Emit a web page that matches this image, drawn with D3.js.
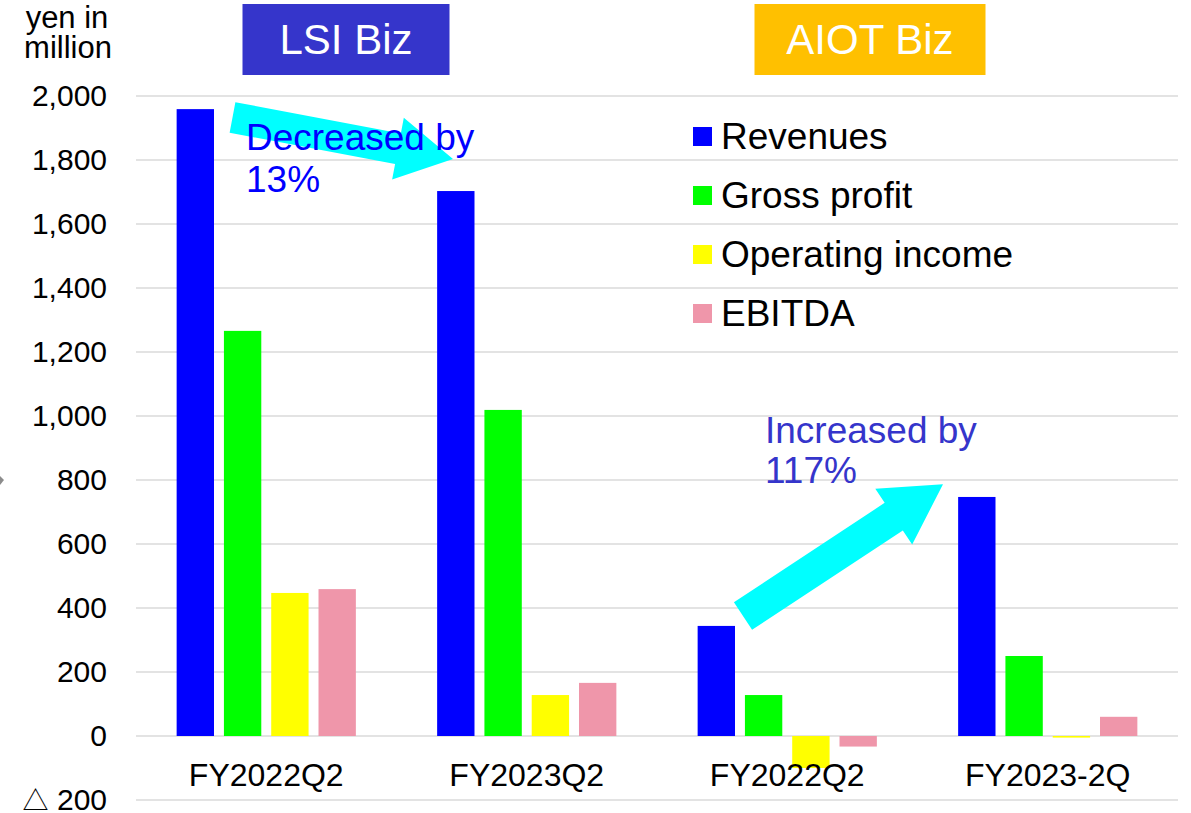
<!DOCTYPE html>
<html>
<head>
<meta charset="utf-8">
<script src="https://cdn.jsdelivr.net/npm/d3@7"></script>
<style>
  body { margin: 0; background: white; }
  text { font-family: "Liberation Sans", Arial, sans-serif; }
</style>
</head>
<body>
<div id="chart"></div>
<script>
// chart data (yen in million)
const categories = ["FY2022Q2", "FY2023Q2", "FY2022Q2", "FY2023-2Q"];
const seriesNames = ["Revenues", "Gross profit", "Operating income", "EBITDA"];
const revenues = [1959, 1703, 344, 747];
const grossProfit = [1266, 1019, 128, 250];
const operatingIncome = [447, 128, -100, -5];
const ebitda = [459, 166, -33, 60];
const seriesColors = ["#0000ff", "#00ff00", "#ffff00", "#ef96aa"];
const yTicks = [-200, 0, 200, 400, 600, 800, 1000, 1200, 1400, 1600, 1800, 2000];
const segments = [
  { label: "LSI Biz", fill: "#3535cb" },
  { label: "AIOT Biz", fill: "#ffc000" }
];

const width = 1191;
const height = 813;

const svg = d3.select("#chart")
  .append("svg")
  .attr("width", width)
  .attr("height", height)
  .style("background-color", "white");

// scales
const y = d3.scaleLinear().domain([-200, 2000]).range([800, 96]);

const x0 = d3.scaleBand()
  .domain(d3.range(categories.length))
  .range([136, 1178])
  .paddingInner(0.312)
  .paddingOuter(0.156);

const x1 = d3.scaleBand()
  .domain(seriesNames)
  .range([0, x0.bandwidth()])
  .paddingInner(0.21);

const color = d3.scaleOrdinal().domain(seriesNames).range(seriesColors);

const valuesBySeries = [revenues, grossProfit, operatingIncome, ebitda];

// gridlines
svg.append("g")
  .selectAll("line")
  .data(yTicks)
  .enter().append("line")
  .attr("x1", 136)
  .attr("x2", 1178)
  .attr("y1", d => y(d))
  .attr("y2", d => y(d))
  .attr("stroke", "#e3e3e3")
  .attr("stroke-width", 2);

// y axis labels (negative values shown with a triangle)
const fmt = d3.format(",");
const yLabels = svg.append("g")
  .selectAll("text")
  .data(yTicks)
  .enter().append("text")
  .attr("x", 107)
  .attr("y", d => y(d))
  .attr("dy", "0.33em")
  .attr("text-anchor", "end")
  .style("font-size", "30px")
  .attr("fill", "#000");

yLabels.filter(d => d < 0).append("tspan")
  .style("font-family", "'Noto Sans CJK JP'")
  .style("font-size", "26px")
  .text("\u25B3");
yLabels.append("tspan")
  .text(d => d < 0 ? " " + fmt(-d) : fmt(d));

// unit label, two lines in one text
const unit = svg.append("text")
  .attr("text-anchor", "middle")
  .style("font-size", "31px");
unit.append("tspan").attr("x", 67).attr("y", 28).text("yen in");
unit.append("tspan").attr("x", 68).attr("y", 58).text("million");

// bars
const groups = svg.append("g")
  .selectAll("g")
  .data(categories.map((c, i) => ({ i, c })))
  .enter().append("g")
  .attr("transform", d => `translate(${x0(d.i)},0)`);

groups.selectAll("rect")
  .data(d => seriesNames.map((s, k) => ({ s, v: valuesBySeries[k][d.i] })))
  .enter().append("rect")
  .attr("x", d => x1(d.s))
  .attr("width", x1.bandwidth())
  .attr("y", d => y(Math.max(0, d.v)))
  .attr("height", d => Math.abs(y(d.v) - y(0)))
  .attr("fill", d => color(d.s));

// category labels
svg.append("g")
  .selectAll("text")
  .data(categories)
  .enter().append("text")
  .attr("x", (d, i) => x0(i) + x0.bandwidth() / 2)
  .attr("y", 786)
  .attr("text-anchor", "middle")
  .style("font-size", "32px")
  .text(d => d);

// segment title boxes
segments.forEach((seg, k) => {
  const cx = k === 0 ? 346 : 870;
  const w = k === 0 ? 207 : 231;
  svg.append("rect")
    .attr("x", cx - w / 2)
    .attr("y", 4)
    .attr("width", w)
    .attr("height", 71)
    .attr("fill", seg.fill);
  svg.append("text")
    .attr("x", cx)
    .attr("y", 54)
    .attr("text-anchor", "middle")
    .attr("fill", "white")
    .style("font-size", "42px")
    .text(seg.label);
});

// block arrow helper
function blockArrow(sx, sy, ex, ey, shaftW, headW, headL) {
  const dx = ex - sx, dy = ey - sy;
  const len = Math.hypot(dx, dy);
  const ux = dx / len, uy = dy / len;
  const nx = -uy, ny = ux;
  const bx = ex - ux * headL, by = ey - uy * headL;
  const pts = [
    [sx + nx * shaftW / 2, sy + ny * shaftW / 2],
    [bx + nx * shaftW / 2, by + ny * shaftW / 2],
    [bx + nx * headW / 2, by + ny * headW / 2],
    [ex, ey],
    [bx - nx * headW / 2, by - ny * headW / 2],
    [bx - nx * shaftW / 2, by - ny * shaftW / 2],
    [sx - nx * shaftW / 2, sy - ny * shaftW / 2]
  ];
  return "M" + pts.map(p => p.join(",")).join("L") + "Z";
}

// arrows (drawn before the annotation text)
svg.append("path")
  .attr("d", blockArrow(232.5, y(1933), 453, y(1803), 31, 63, 56))
  .attr("fill", "#00ffff");
svg.append("path")
  .attr("d", blockArrow(743, y(375), 943, y(787), 33, 67, 59))
  .attr("fill", "#00ffff");

// annotations
const dec = svg.append("text")
  .attr("fill", "#0000ff")
  .style("font-size", "37px");
dec.append("tspan").attr("x", 246).attr("y", 150).text("Decreased by");
dec.append("tspan").attr("x", 246).attr("y", 192).text("13%");

const inc = svg.append("text")
  .attr("fill", "#3535cb")
  .style("font-size", "37px");
inc.append("tspan").attr("x", 765).attr("y", 443).text("Increased by");
inc.append("tspan").attr("x", 765).attr("y", 483).text("117%");

// legend
const legend = svg.append("g")
  .selectAll("g")
  .data(seriesNames)
  .enter().append("g")
  .attr("transform", (d, i) => `translate(693,${149 + i * 59})`);

legend.append("rect")
  .attr("x", 0)
  .attr("y", -22)
  .attr("width", 19)
  .attr("height", 19)
  .attr("fill", d => color(d));

legend.append("text")
  .attr("x", 28)
  .attr("y", 0)
  .style("font-size", "37px")
  .text(d => d);

// small cut-off marker at the left edge
svg.append("path")
  .attr("d", "M0,476L4,480L0,485Z")
  .attr("fill", "#8c8c8c");
</script>
</body>
</html>
